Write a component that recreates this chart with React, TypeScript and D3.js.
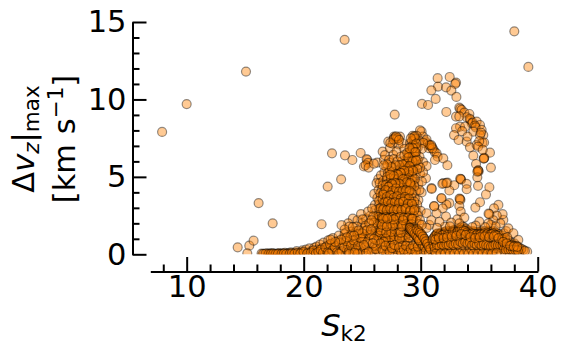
import React, { useRef, useEffect } from "react";
import * as d3 from "d3";

type Pt = [number, number];

const xMajor = [10, 20, 30, 40];
const xMinor = [8, 12, 14, 16, 18, 22, 24, 26, 28, 32, 34, 36, 38];
const yMajor = [0, 5, 10, 15];
const yMinor = [1, 2, 3, 4, 6, 7, 8, 9, 11, 12, 13, 14];

// [S_k2, dv_z max]
const outliers: Pt[] = [
  [7.9, 7.9], [10, 9.7], [15.07, 11.8], [23.5, 13.85], [38, 14.4], [39.2, 12.1], [16.15, 3.31], [17.35, 2],
  [14.36, 0.45], [15.35, 0.56], [15.72, 0.88], [15.18, 0.06], [22.42, 6.52], [22.05, 4.37], [23.2, 4.84],
  [21.53, 1.94], [23.53, 6.39], [24.16, 6.09], [24.87, 6.54], [27.78, 9.02],
];

const upperArc: Pt[] = [
  [31.45, 11.37], [32.48, 11.45], [33.02, 11.09], [32.95, 11.0], [31.48, 10.83], [32.17, 10.78], [30.91, 10.59],
  [32.62, 10.57], [31.28, 10.03], [33.05, 10.16], [30.11, 9.71], [30.63, 9.64], [32.19, 9.19],
];

const rightArc: Pt[] = [
  [33.3, 9.47], [33.38, 9.4], [33.5, 9.32], [33.73, 9.15], [34.16, 9.06], [33.02, 8.89], [33.93, 8.85], [33.3, 8.9],
  [34.27, 8.67], [34.2, 8.75], [34.36, 8.46], [34.45, 8.5], [34.78, 8.57], [35.07, 8.35], [34.64, 8.31], [34.7, 8.2],
  [33.36, 8.24], [33.02, 8.14], [33.79, 8.24], [34.5, 7.92], [35.21, 8.03], [35.35, 7.7], [35.07, 7.7], [35.15, 7.85],
  [32.85, 7.7], [33.24, 7.38], [33.93, 7.27], [34.21, 6.91], [34.78, 7.06], [35.27, 7.21], [35.42, 7.22], [35.0, 7.3],
  [34.9, 6.95], [35.92, 6.56], [34.5, 6.37], [35.41, 6.2], [35.43, 6.22], [35.38, 6.18], [34.73, 5.83], [36, 5.6],
  [34.93, 5.4], [34.95, 5.35], [34.9, 5.42], [34.84, 4.97], [34.84, 5.34], [33.55, 7.95], [34, 7.6], [35.3, 6.75],
];

const midArc: Pt[] = [
  [30.08, 7.92], [30.2, 7.6], [30.4, 7.3], [30.6, 7.15], [30.8, 7], [30.95, 6.95], [31.1, 6.75], [30.7, 6.85],
  [31.2, 6.6], [31.36, 6.52], [31.45, 6.3], [31.22, 6.09], [31.93, 6.2], [32.28, 5.75], [29.94, 8], [30.5, 7.4],
  [30.75, 7.05], [31.0, 6.85], [30.9, 7.05],
];

const tower: Pt[] = [
  [27.72, 7.6], [27.23, 7.28], [28.23, 7.6], [27.95, 7.45], [28.43, 7.17], [29.65, 7.65], [29.31, 7.65], [29.08, 7.17],
  [29.4, 7.4], [29.9, 7.3], [30.22, 7.2], [29.2, 6.95], [29.5, 7], [29.75, 6.9], [28.1, 7.1], [27.6, 7.15], [30.1, 6.8],
  [25.44, 6.09], [25.38, 6.14], [25.5, 5.9], [25.15, 5.67], [25.3, 5.75], [25.55, 5.6], [26.29, 5.92], [26.0, 5.85],
  [26.75, 6.63], [26.86, 6.1], [26.95, 6.4], [27.37, 6.85], [27.66, 6.42], [27.94, 6.64], [28.6, 6.8],
  [29.05, 6.6], [29.3, 6.4], [29.6, 6.55], [29.9, 6.3], [28.8, 6.2], [28.4, 6], [27.4, 5.9], [27.05, 5.65],
  [27.7, 5.6], [28, 5.4], [28.35, 5.6], [28.7, 5.7], [29.1, 5.95], [29.45, 5.85], [29.8, 5.8], [30.2, 5.95], [30.5, 5.7],
  [30.45, 4.91], [30.93, 4.27], [30.08, 3.99], [29.8, 3.5], [26.38, 4.85], [26.23, 4.59], [26.03, 3.9], [26.09, 3.19],
  [26.6, 5.1], [26.9, 5.3], [27.2, 5.25], [27.5, 5.1], [27.85, 5.0], [28.2, 5.1], [28.55, 5.25], [28.9, 5.3], [29.25, 5.3],
  [29.6, 5.2], [29.95, 5.2], [30.2, 5.3], [26.5, 4.6], [26.8, 4.75], [27.1, 4.8], [27.4, 4.6], [27.7, 4.7], [28.05, 4.6],
  [28.4, 4.7], [28.75, 4.8], [29.1, 4.75], [29.45, 4.7], [29.8, 4.55], [30.1, 4.7], [26.4, 4.15], [26.7, 4.2], [27, 4.3],
  [27.3, 4.15], [27.6, 4.25], [27.95, 4.1], [28.25, 4.2], [28.6, 4.25], [28.95, 4.3], [29.3, 4.2], [29.6, 4.1], [29.9, 4.15],
  [26.3, 3.65], [26.6, 3.7], [26.9, 3.8], [27.2, 3.65], [27.5, 3.75], [27.85, 3.6], [28.15, 3.7], [28.5, 3.75], [28.85, 3.8],
  [29.2, 3.65], [29.5, 3.6], [26.45, 3.2], [26.75, 3.3], [27.05, 3.2], [27.35, 3.3], [27.7, 3.15], [28, 3.25], [28.35, 3.2],
  [28.7, 3.3], [29.05, 3.15], [29.4, 3.1], [29.7, 3.2], [26.1, 2.85], [26.4, 2.75], [26.7, 2.8], [27, 2.7], [27.3, 2.85],
  [27.6, 2.7], [27.95, 2.8], [28.25, 2.7], [28.6, 2.8], [28.95, 2.7], [29.3, 2.65], [29.65, 2.75], [30, 2.8], [27.15, 3.55],
  [28.35, 4.45], [29, 5.55], [27.55, 3.45], [28.8, 3.45], [27.2, 4.55], [29.2, 4.45], [28.6, 5.55], [29.4, 6.1],
];

// second pass over the dense core of the tower
const towerCore: Pt[] = [
  [27.75, 7.5], [27.85, 7.55], [28.05, 7.5], [27.4, 7.2], [29.4, 7.55], [29.55, 7.45], [29.25, 7.3], [29.35, 7.05], [29.6, 6.85],
  [29.2, 6.7], [29.45, 6.6], [29.0, 6.45], [29.25, 6.2], [29.55, 6.3], [28.85, 6.0], [29.15, 5.8], [29.4, 5.65], [28.7, 5.85],
  [28.9, 5.55], [29.2, 5.45], [28.45, 5.4], [28.7, 5.2], [29.0, 5.1], [29.3, 5.0], [28.2, 5.3], [27.9, 5.2], [27.6, 5.3],
  [27.35, 5.4], [27.15, 5.0], [27.45, 4.9], [27.75, 4.85], [28.05, 4.85], [28.35, 4.95], [28.65, 4.95], [28.95, 4.9], [29.25, 4.75],
  [29.5, 4.85], [26.75, 4.45], [27.05, 4.5], [27.35, 4.4], [27.65, 4.45], [27.95, 4.35], [28.25, 4.45], [28.55, 4.5], [28.85, 4.55],
  [29.15, 4.5], [29.45, 4.4], [26.55, 3.95], [26.85, 4.0], [27.15, 4.05], [27.45, 3.95], [27.75, 4.0], [28.05, 3.85], [28.35, 3.95],
  [28.65, 4.0], [28.95, 4.05], [29.25, 3.95], [26.45, 3.45], [26.75, 3.55], [27.05, 3.45], [27.35, 3.55], [27.65, 3.4], [27.95, 3.5],
  [28.25, 3.45], [28.55, 3.55], [28.85, 3.55], [29.15, 3.4], [29.45, 3.4], [26.6, 3.0], [26.9, 3.05], [27.2, 3.0], [27.5, 3.05],
  [27.8, 2.95], [28.1, 3.0], [28.45, 2.95], [28.8, 3.05], [29.15, 2.9], [29.5, 2.95], [26.3, 2.5], [26.55, 2.55], [26.85, 2.5],
  [27.15, 2.55], [27.45, 2.5], [27.75, 2.55], [28.05, 2.5], [28.35, 2.55], [28.7, 2.5], [29.05, 2.45], [29.4, 2.45], [29.75, 2.5],
  [26.15, 2.2], [26.45, 2.25], [26.75, 2.2], [27.0, 2.1], [27.35, 2.2], [27.65, 2.1], [28.0, 2.15], [28.3, 2.05], [28.65, 2.15],
  [28.95, 2.05], [29.35, 2.1], [29.65, 2.15], [26.2, 1.8], [26.45, 1.65], [26.75, 1.6], [27.25, 1.6], [27.55, 1.65], [27.85, 1.7],
  [28.15, 1.6], [28.6, 1.6], [28.85, 1.75], [29.35, 1.7], [26.1, 1.45], [26.35, 1.2], [26.65, 1.1], [26.9, 1.3], [27.25, 1.25],
  [27.6, 1.2], [27.85, 1.3], [28.05, 1.1], [28.45, 1.2], [28.75, 1.3], [29.2, 1.2], [27.2, 0.85], [27.55, 0.8], [27.8, 0.9],
  [28.3, 0.8], [28.6, 0.85], [29.15, 0.8], [27.3, 6.1], [27.7, 6.15], [28.0, 6.0], [28.3, 6.3], [28.6, 6.4], [28.85, 6.55],
  [28.15, 5.75], [28.45, 5.8], [27.85, 5.75], [27.5, 5.65], [27.15, 5.8], [26.85, 5.75], [29.75, 6.1], [29.95, 5.6], [29.7, 5.5],
];

// third pass, the darkest part of the tower and its shoulder
const towerDark: Pt[] = [
  [27.68, 7.42], [27.9, 7.62], [28.15, 7.38], [29.48, 7.62], [29.15, 7.48], [29.62, 7.15], [29.32, 6.85], [29.05, 6.85], [29.55, 6.6], [28.95, 6.25],
  [29.3, 6.0], [29.6, 6.05], [29.05, 5.7], [29.35, 5.4], [29.0, 5.35], [28.6, 5.4], [28.3, 5.25], [28.05, 5.15], [27.7, 5.05], [27.4, 5.15],
  [28.5, 4.85], [28.8, 4.65], [29.1, 4.6], [28.2, 4.55], [27.85, 4.6], [27.55, 4.55], [27.25, 4.35], [27.0, 4.15], [27.6, 4.1], [27.9, 4.25],
  [28.15, 4.05], [28.45, 4.1], [28.75, 4.15], [29.05, 4.1], [26.8, 3.85], [27.1, 3.7], [27.4, 3.8], [27.7, 3.65], [28.0, 3.75], [28.3, 3.6],
  [28.65, 3.7], [29.0, 3.6], [26.9, 3.35], [27.2, 3.4], [27.5, 3.3], [27.8, 3.35], [28.15, 3.3], [28.5, 3.4], [28.9, 3.25], [29.25, 3.25],
  [26.5, 2.95], [26.8, 2.9], [27.1, 2.85], [27.4, 2.95], [27.7, 2.85], [28.0, 2.9], [28.35, 2.85], [28.7, 2.95], [29.1, 2.8], [29.45, 2.85],
  [26.4, 2.4], [26.7, 2.35], [27.0, 2.4], [27.3, 2.35], [27.6, 2.4], [27.9, 2.35], [28.2, 2.4], [28.55, 2.35], [28.9, 2.35], [29.2, 2.3],
  [26.3, 1.95], [26.6, 1.95], [26.9, 1.85], [27.2, 1.9], [27.5, 1.95], [27.8, 1.9], [28.1, 1.95], [28.45, 1.9], [28.75, 1.95], [29.05, 1.9],
  [26.2, 1.35], [26.55, 1.4], [26.8, 1.0], [27.15, 1.1], [27.45, 1.3], [27.75, 1.05], [28.1, 1.4], [28.4, 1.05], [28.7, 1.1], [28.95, 1.4],
  [24.2, 2.3], [24.6, 2.2], [25.0, 2.0], [25.35, 2.3], [25.7, 2.5], [23.8, 2.0], [24.9, 2.6], [25.5, 2.75], [25.85, 2.95], [25.2, 1.7],
  [24.75, 1.35], [24.45, 1.5], [24.05, 1.3], [23.6, 1.4], [25.55, 1.2], [25.25, 1.15], [24.95, 0.95], [24.55, 0.75], [24.15, 0.7], [23.75, 0.65],
];

const leftSlope: Pt[] = [
  [16.4, 0.05], [16.6, 0.03], [16.9, 0.06], [17.1, 0.04], [17.3, 0.07], [17.5, 0.03], [17.7, 0.05], [17.9, 0.08], [18, 0.03],
  [18.2, 0.06], [18.4, 0.1], [18.6, 0.04], [18.7, 0.07], [18.9, 0.12], [19.1, 0.05], [19.3, 0.1], [19.4, 0.2], [19.6, 0.06],
  [19.8, 0.14], [19.9, 0.25], [20.1, 0.08], [20.2, 0.3], [20.4, 0.12], [20.5, 0.38], [20.7, 0.2], [20.8, 0.05], [20.9, 0.42],
  [21, 0.15], [21.1, 0.5], [21.2, 0.28], [21.3, 0.05], [21.4, 0.62], [21.5, 0.2], [21.6, 0.4], [21.7, 0.75], [21.8, 0.08],
  [21.9, 0.3], [22, 0.55], [22.1, 0.9], [22.2, 0.15], [22.3, 0.4], [22.4, 0.7], [22.5, 1.05], [22.6, 0.08], [22.7, 0.28],
  [22.8, 0.55], [22.9, 0.85], [23, 1.2], [23.1, 0.12], [23.2, 0.38], [23.3, 0.65], [23.4, 1], [23.5, 1.3], [23.6, 0.06],
  [23.7, 0.25], [23.8, 0.5], [23.9, 0.8], [24, 1.15], [24.1, 1.45], [24.2, 0.12], [24.3, 0.35], [24.4, 0.65], [24.5, 0.95],
  [24.52, 1.79], [24.6, 1.3], [24.7, 0.08], [24.8, 0.25], [24.9, 0.5], [25, 0.8], [25.04, 2.26], [25.1, 1.1], [25.2, 1.5],
  [25.3, 1.85], [25.4, 0.12], [25.5, 0.35], [25.6, 0.65], [25.7, 0.95], [25.8, 1.3], [25.95, 2.44], [25.9, 1.7], [26, 2.05],
  [26.1, 0.08], [26.2, 0.3], [26.3, 0.55], [26.4, 0.85], [26.5, 1.2], [26.6, 1.55], [26.7, 1.9], [26.8, 2.3], [23.24, 1.88],
  [23.9, 1.79], [23.5, 1.6], [24.2, 1.75], [25.6, 2.0], [25.8, 2.2], [27.1, 0.12], [27.2, 0.4], [27.3, 0.75], [27.4, 1.1],
  [27.5, 1.45], [27.6, 1.85], [27.7, 2.25], [27.9, 0.08], [28, 0.3], [28.1, 0.65], [28.2, 1], [28.3, 1.4], [28.4, 1.8],
  [28.5, 2.2], [26.9, 0.2], [26.95, 0.6], [27, 1], [27.05, 1.4], [27.1, 1.8], [27.15, 2.3], [28.7, 0.1], [28.8, 0.35],
  [28.9, 0.7], [29, 1.1], [29.1, 1.5], [29.2, 1.95], [29.3, 2.3], [29.4, 0.08], [29.5, 0.3], [29.6, 0.7], [29.7, 1.15],
  [29.8, 1.55], [29.9, 1.95], [29.94, 2.2], [30.1, 0.08], [30.2, 0.3], [30.51, 2.65],
];

// second pass over the slope and the floor under the tower
const slopeCore: Pt[] = [
  [16.5, 0.02], [16.75, 0.04], [17.0, 0.02], [17.2, 0.03], [17.4, 0.05], [17.6, 0.02], [17.8, 0.03], [18.1, 0.02], [18.3, 0.04], [18.5, 0.02],
  [18.8, 0.03], [19.0, 0.08], [19.2, 0.03], [19.5, 0.1], [19.7, 0.04], [20.0, 0.15], [20.3, 0.04], [20.6, 0.1], [20.85, 0.25], [21.05, 0.06],
  [21.25, 0.15], [21.45, 0.3], [21.65, 0.1], [21.85, 0.45], [22.05, 0.12], [22.25, 0.65], [22.45, 0.25], [22.65, 0.45], [22.85, 0.12], [23.05, 0.75],
  [23.25, 0.18], [23.45, 0.45], [23.65, 0.85], [23.85, 0.15], [24.05, 0.55], [24.25, 0.9], [24.45, 0.25], [24.65, 0.55], [24.85, 1.05], [25.05, 0.15],
  [25.25, 0.45], [25.45, 0.8], [25.65, 1.25], [25.85, 0.2], [26.05, 0.55], [26.25, 0.9], [26.45, 0.1], [26.65, 0.4], [26.85, 0.8], [27.05, 0.05],
  [27.25, 0.25], [27.45, 0.55], [27.65, 0.08], [27.85, 0.35], [28.05, 0.05], [28.25, 0.25], [28.45, 0.55], [28.65, 0.05], [28.85, 0.2], [29.05, 0.5],
  [29.25, 0.08], [29.45, 0.45], [29.65, 0.1], [29.85, 0.35], [30.0, 0.05], [22.15, 0.05], [23.0, 0.05], [23.9, 0.05], [24.6, 0.05], [25.3, 0.05],
  [25.0, 1.35], [25.4, 1.55], [24.7, 1.55], [25.75, 1.6], [24.3, 1.2], [23.7, 1.1], [23.2, 0.95], [22.7, 0.8], [22.3, 0.95], [26.0, 1.0],
  [26.15, 0.35], [26.55, 0.7], [26.75, 0.25], [27.0, 0.55], [27.35, 0.15], [27.55, 0.4], [27.75, 0.6], [28.15, 0.45], [28.35, 0.1], [28.55, 0.3],
  [28.75, 0.55], [28.95, 0.1], [29.15, 0.35], [29.35, 0.55], [29.55, 0.15], [29.75, 0.5], [25.15, 0.6], [25.55, 0.15], [25.9, 0.7], [24.35, 0.1],
];

const darkBand: Pt[] = [
  [29.05, 1.72], [29.12, 1.66], [29.2, 1.58], [29.3, 1.5], [29.42, 1.4], [29.55, 1.28], [29.68, 1.14], [29.8, 1.0], [29.92, 0.85],
  [30.05, 0.72], [30.2, 0.58], [30.35, 0.45], [29.6, 1.65], [29.72, 1.55], [29.85, 1.45], [30, 1.35], [30.12, 1.22], [30.25, 1.08],
  [30.38, 0.92], [30.5, 0.75], [30.62, 0.6], [30.75, 0.42], [30.9, 0.28], [31, 0.12], [30.45, 0.2], [30.7, 0.1], [29.08, 1.7],
  [29.17, 1.6], [29.26, 1.52], [29.36, 1.44], [29.48, 1.33], [29.62, 1.2], [29.75, 1.06], [29.87, 0.92], [29.65, 1.6], [29.78, 1.5],
  [29.93, 1.4], [30.06, 1.28], [30.18, 1.15], [30.32, 1.0], [30.44, 0.84], [30.56, 0.68], [30.68, 0.5], [30.82, 0.35],
];

const rightFloor: Pt[] = [
  [31, 0.9], [31.15, 1.1], [31.3, 1.25], [31.45, 1.35], [31.6, 1.3], [31.75, 1.4], [31.9, 1.35], [32.05, 1.45], [32.2, 1.5], [32.35, 1.4],
  [32.5, 1.5], [32.65, 1.45], [32.8, 1.55], [32.95, 1.6], [33.1, 1.5], [33.25, 1.65], [33.4, 1.7], [33.55, 1.8], [33.7, 1.75], [33.85, 1.65],
  [34, 1.55], [34.15, 1.45], [34.3, 1.4], [34.45, 1.5], [34.6, 1.45], [34.75, 1.35], [34.9, 1.45], [35.05, 1.4], [35.2, 1.5], [35.35, 1.4],
  [35.5, 1.5], [35.65, 1.4], [35.8, 1.5], [35.95, 1.4], [36.1, 1.45], [36.25, 1.5], [36.4, 1.4], [36.55, 1.35], [31.1, 0.6], [31.3, 0.8],
  [31.5, 0.7], [31.7, 0.95], [31.9, 0.75], [32.1, 1], [32.3, 0.8], [32.5, 1], [32.7, 0.85], [32.9, 1.05], [33.1, 0.9], [33.3, 1.1],
  [33.5, 0.95], [33.7, 1.15], [33.9, 0.95], [34.1, 1.05], [34.3, 0.85], [34.5, 1], [34.7, 0.8], [34.9, 0.95], [35.1, 0.75], [35.3, 0.85],
  [35.5, 0.95], [35.7, 0.8], [35.9, 0.6], [36.1, 0.65], [36.3, 0.9], [36.5, 0.8], [36.7, 0.7], [31.2, 0.2], [31.4, 0.4], [31.6, 0.15],
  [31.8, 0.35], [32, 0.1], [32.2, 0.4], [32.4, 0.2], [32.6, 0.45], [32.8, 0.12], [33, 0.35], [33.2, 0.15], [33.4, 0.45], [33.6, 0.2],
  [33.8, 0.5], [34, 0.12], [34.2, 0.4], [34.4, 0.18], [34.6, 0.42], [34.8, 0.1], [35, 0.35], [35.2, 0.15], [35.4, 0.4], [35.6, 0.12],
  [35.8, 0.3], [36, 0.08], [36.2, 0.25], [36.4, 0.4], [36.6, 0.38], [36.8, 0.45], [37, 0.4], [37.2, 0.5], [37.4, 0.42], [37.6, 0.48],
  [37.8, 0.45], [38, 0.4], [38.2, 0.42], [38.34, 0.36], [38.5, 0.3], [38.77, 0.28], [39.1, 0.17], [36.9, 0.12], [37.2, 0.1], [37.6, 0.12],
  [38, 0.1], [38.4, 0.1], [37, 0.95], [37.25, 0.85], [37.5, 0.9], [37.75, 0.75], [38, 0.7], [36.7, 1.3], [36.9, 1.2], [37.1, 1.35],
  [37.3, 1.5], [37.49, 1.68], [37.92, 1.36], [38.34, 0.93], [37.06, 2.22], [37, 2.59], [36.64, 3.19], [36.26, 2.97], [36.5, 2.5], [36.8, 2.0],
  [36.2, 2.2], [36.0, 1.9], [36.4, 1.8], [35.87, 2.59], [35.8, 2.62], [35.78, 2.0], [35.5, 1.75], [35.01, 2.11], [34.7, 1.85], [34.4, 1.75],
];

// second pass over the floor right of the tower
const floorCore: Pt[] = [
  [31.05, 1.0], [31.22, 1.18], [31.38, 1.3], [31.52, 1.2], [31.68, 1.3], [31.85, 1.25], [32.0, 1.3], [32.15, 1.35], [32.3, 1.3], [32.45, 1.35],
  [32.6, 1.3], [32.75, 1.4], [32.9, 1.45], [33.05, 1.35], [33.2, 1.5], [33.35, 1.55], [33.5, 1.6], [33.65, 1.55], [33.8, 1.5], [33.95, 1.4],
  [34.1, 1.3], [34.25, 1.25], [34.4, 1.35], [34.55, 1.3], [34.7, 1.2], [34.85, 1.3], [35.0, 1.25], [35.15, 1.3], [35.3, 1.25], [35.45, 1.35],
  [35.6, 1.25], [35.75, 1.35], [35.9, 1.25], [36.05, 1.3], [36.2, 1.35], [36.35, 1.25], [36.5, 1.2], [31.2, 0.45], [31.4, 0.6], [31.6, 0.5],
  [31.8, 0.65], [32.0, 0.55], [32.2, 0.65], [32.4, 0.6], [32.6, 0.7], [32.8, 0.6], [33.0, 0.7], [33.2, 0.65], [33.4, 0.8], [33.6, 0.7],
  [33.8, 0.8], [34.0, 0.7], [34.2, 0.75], [34.4, 0.6], [34.6, 0.7], [34.8, 0.6], [35.0, 0.7], [35.2, 0.55], [35.4, 0.65], [35.6, 0.6],
  [35.8, 0.55], [36.0, 0.5], [36.2, 0.55], [36.4, 0.62], [36.6, 0.58], [36.8, 0.6], [37.0, 0.6], [37.2, 0.65], [37.4, 0.62], [37.6, 0.65],
  [37.8, 0.6], [38.0, 0.55], [38.2, 0.55], [38.4, 0.45], [38.6, 0.35], [38.9, 0.22], [37.1, 0.3], [37.3, 0.3], [37.5, 0.3], [37.7, 0.3],
  [37.9, 0.28], [38.1, 0.28], [38.3, 0.25], [31.3, 0.05], [31.7, 0.05], [32.1, 0.05], [32.5, 0.05], [32.9, 0.05], [33.3, 0.05], [33.7, 0.05],
  [34.1, 0.05], [34.5, 0.05], [34.9, 0.05], [35.3, 0.05], [35.7, 0.05], [36.1, 0.05], [36.5, 0.1], [36.95, 0.95], [37.2, 1.05], [37.4, 1.1],
  [31.25, 0.95], [31.55, 1.05], [31.95, 1.05], [32.25, 1.1], [32.65, 1.15], [33.05, 1.2], [33.45, 1.3], [33.85, 1.25], [34.25, 1.1], [34.65, 1.05],
  [35.05, 1.1], [35.45, 1.15], [35.85, 1.1], [36.25, 1.15], [36.65, 1.05], [37.05, 0.8], [37.35, 0.7], [37.65, 0.55], [37.95, 0.5], [38.25, 0.48],
];

const looseCloud: Pt[] = [
  [33.42, 4.85], [33.45, 4.82], [33.38, 4.88], [31.93, 4.59], [32.28, 4.63], [32.87, 4.46], [33.93, 4.55], [33.93, 4.2], [32.45, 4.12],
  [30.94, 4.22], [34.9, 4.42], [35.87, 4.33], [35.58, 3.86], [35.07, 3.36], [34.67, 3.02], [31.76, 3.62], [33.36, 3.56],
  [33.4, 3.52], [33.32, 3.6], [32.45, 3.3], [32.2, 3.2], [31.14, 3.12], [31.88, 2.97], [33.3, 3.12], [33.42, 2.76], [31.36, 2.65],
  [32.16, 2.44], [33.13, 2.26], [33.73, 2.37], [30.74, 1.9], [32.08, 1.79], [31.85, 4.55], [32.2, 4.59], [31.79, 3.62],
  [31.16, 3.1], [30.9, 2.2], [31.6, 2.1], [32.6, 2.05], [33.3, 2.0], [30.5, 1.7], [31.4, 1.7], [32.5, 1.8], [30.1, 1.9],
];

const points: Pt[] = [
  ...outliers, ...upperArc, ...rightArc, ...midArc, ...tower, ...towerCore, ...towerDark, ...leftSlope, ...slopeCore,
  ...darkBand, ...rightFloor, ...floorCore, ...looseCloud,
];

const WIDTH = 568;
const HEIGHT = 354;
const AXIS_X = 132.5;
const AXIS_Y = 271.5;

export default function App() {
  const xRef = useRef<SVGGElement>(null);
  const yRef = useRef<SVGGElement>(null);

  const x = d3.scaleLinear().domain([6.9, 40]).range([150.4, 537.7]);
  const y = d3.scaleLinear().domain([0, 15]).range([254.3, 22]);

  useEffect(() => {
    const xg = d3.select(xRef.current);
    xg.selectAll("*").remove();
    xg.append("g").call(d3.axisBottom(x).tickValues(xMinor).tickFormat(() => "").tickSize(-7).tickSizeOuter(0));
    xg.append("g").call(d3.axisBottom(x).tickValues(xMajor).tickFormat(d3.format("d")).tickSize(-14.5).tickSizeOuter(0).tickPadding(4));

    const yg = d3.select(yRef.current);
    yg.selectAll("*").remove();
    yg.append("g").call(d3.axisLeft(y).tickValues(yMinor).tickFormat(() => "").tickSize(-7).tickSizeOuter(0));
    yg.append("g").call(d3.axisLeft(y).tickValues(yMajor).tickFormat(d3.format("d")).tickSize(-14).tickSizeOuter(0).tickPadding(6));

    for (const g of [xg, yg]) {
      g.selectAll("path").attr("stroke", "#000").attr("stroke-width", 2);
      g.selectAll("line").attr("stroke", "#000").attr("stroke-width", 2);
      g.selectAll("text").attr("fill", "#000").style("font-family", "'DejaVu Sans'").style("font-size", "30.5px");
    }
  }, []);

  return (
    <svg width={WIDTH} height={HEIGHT} style={{ position: "absolute", left: 0, top: 0, background: "#fff" }}>
      <defs>
        <clipPath id="plot">
          <rect x={x(6.9)} y={0} width={x(40) - x(6.9)} height={y(0)} />
        </clipPath>
      </defs>
      <g clipPath="url(#plot)">
        {points.map((d, i) => (
          <circle key={i} cx={x(d[0])} cy={y(d[1])} r={4.5} fill="#ff8000" fillOpacity={0.42} stroke="#000" strokeOpacity={0.42} strokeWidth={1.2} />
        ))}
      </g>
      <g ref={xRef} transform={`translate(0,${AXIS_Y})`} />
      <g ref={yRef} transform={`translate(${AXIS_X},0)`} />
      <g fontFamily="'DejaVu Sans'" fontSize={30.5} fill="#000">
        <text textAnchor="middle" transform="translate(34,139) rotate(-90)">
          Δ<tspan fontStyle="italic">v</tspan>
          <tspan fontStyle="italic" fontSize={21.5} dy={5}>z</tspan>
          <tspan dy={-5}>|</tspan>
          <tspan fontSize={21.5} dy={5}>max</tspan>
        </text>
        <text textAnchor="middle" transform="translate(75,139) rotate(-90)">
          [km s<tspan fontSize={21.5} dy={-12}>−1</tspan>
          <tspan dy={12}>]</tspan>
        </text>
        <text textAnchor="middle" x={344} y={336}>
          <tspan fontStyle="italic">S</tspan>
          <tspan fontSize={21.5} dy={5}>k2</tspan>
        </text>
      </g>
    </svg>
  );
}
